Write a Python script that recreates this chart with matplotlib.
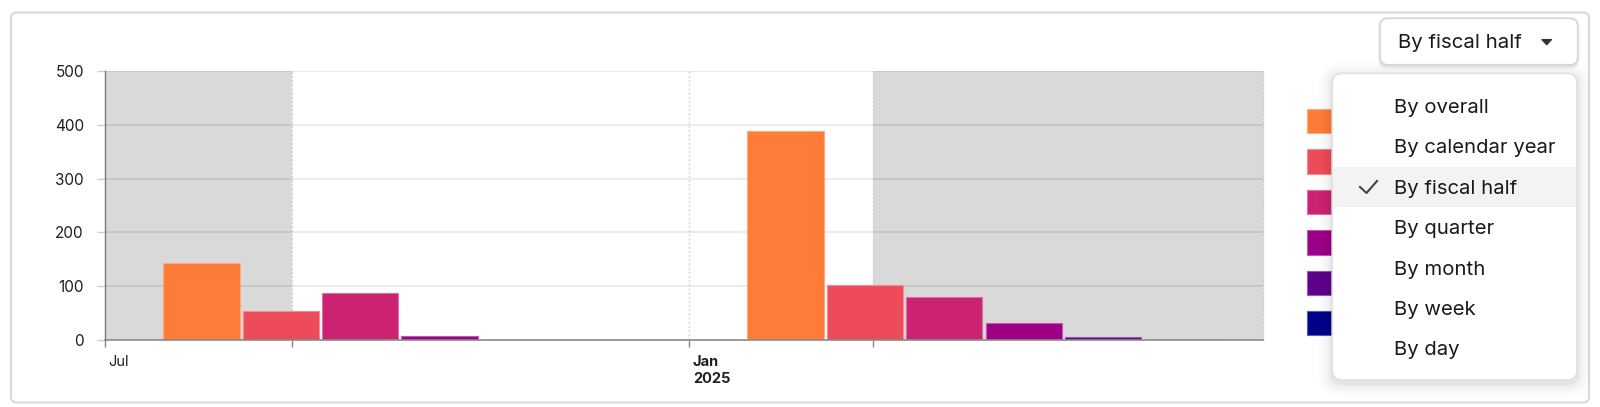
import matplotlib
matplotlib.use("Agg")
import matplotlib.pyplot as plt
import matplotlib.dates as mdates
from matplotlib.patches import FancyBboxPatch, Polygon, Rectangle
from matplotlib.lines import Line2D
from matplotlib.transforms import ScaledTranslation
import numpy as np
import datetime as dt

plt.rcParams['font.family'] = ['Inter', 'DejaVu Sans']

# ---------------- data ----------------
periods = ["H1 FY2025", "H2 FY2025"]
period_centers = ["2024-10-02", "2025-04-04"]
series_names = ["Tier 1", "Tier 2", "Tier 3", "Tier 4", "Tier 5", "Tier 6"]
series_colors = ["#fe7b38", "#ee4b5a", "#cb2272", "#9d0087", "#5e008c", "#00008b"]
values = {
    "Tier 1": [144, 389],
    "Tier 2": [53, 102],
    "Tier 3": [88, 80],
    "Tier 4": [8, 32],
    "Tier 5": [0, 5],
    "Tier 6": [0, 0],
}
x_start, x_end = "2024-07-01", "2025-07-01"
shade_spans = [("2024-07-01", "2024-08-29"), ("2025-02-28", "2025-07-01")]
tick_dates = ["2024-07-01", "2024-08-29", "2025-01-01", "2025-02-28"]
tick_labels = ["Jul", "", "Jan\n2025", ""]
y_ticks = [0, 100, 200, 300, 400, 500]
menu_items = ["By overall", "By calendar year", "By fiscal half", "By quarter",
              "By month", "By week", "By day"]
selected = "By fiscal half"

W, H = 1600, 407
fig = plt.figure(figsize=(W / 100, H / 100), dpi=100)
fig.patch.set_facecolor("white")

def d(s):
    return mdates.date2num(dt.datetime.fromisoformat(s))

def rrect(x0, y0, x1, y1, r, **kw):
    p = FancyBboxPatch((x0 / 100, (H - y1) / 100), (x1 - x0) / 100, (y1 - y0) / 100,
                       boxstyle=f"round,pad=0,rounding_size={r/100}",
                       transform=fig.dpi_scale_trans, **kw)
    fig.patches.append(p)
    return p

# card
rrect(11, 12.5, 1589, 402.5, 6, facecolor="white", edgecolor="#d4d4d4", lw=1.3, zorder=-5)

# axes
ax_l, ax_r, ax_t, ax_b = 104.7, 1263.3, 71, 340
ax = fig.add_axes([ax_l / W, (H - ax_b) / H, (ax_r - ax_l) / W, (ax_b - ax_t) / H])
ax.set_facecolor("none")
ax.set_xlim(d(x_start), d(x_end))
ax.set_ylim(0, 500)

for a, b in shade_spans:
    ax.axvspan(d(a), d(b), color="#d9d9d9", lw=0, zorder=0.2)

for y in y_ticks[1:]:
    ax.axhline(y, color="black", alpha=0.085, lw=1.3, zorder=0.5)
for t in tick_dates[1:]:
    ax.axvline(d(t), color="#d4d4d4", lw=1, ls=(0, (1.5, 1.5)), zorder=0.6)

slot = 25.0
bw = 24.0
n = len(series_names)
centers = np.array([d(c) for c in period_centers])
handles = []
for i, name in enumerate(series_names):
    xs = centers + (i - (n - 1) / 2) * slot
    col = series_colors[i]
    rgb = np.array(matplotlib.colors.to_rgb(col))
    edge = tuple(rgb + (1 - rgb) * 0.35)
    bc = ax.bar(xs, values[name], width=bw, color=col, edgecolor=edge, lw=0.8,
                zorder=2, label=name)
    handles.append(bc)

ax.set_yticks(y_ticks)
ax.set_yticklabels([str(v) for v in y_ticks])
ax.tick_params(axis="y", length=6, color="#cccccc", width=1, pad=9,
               labelsize=11, labelcolor="#1f1f1f")
ax.set_xticks([d(t) for t in tick_dates])
ax.set_xticklabels(tick_labels)
ax.tick_params(axis="x", length=5, color="#888888", width=1, pad=6,
               labelsize=10.5, labelcolor="#1f1f1f")
off = ScaledTranslation(4 / 100, 0, fig.dpi_scale_trans)
for lab in ax.get_xticklabels():
    lab.set_horizontalalignment("left")
    lab.set_transform(lab.get_transform() + off)
    lab.set_linespacing(1.25)
    if "2025" in lab.get_text():
        lab.set_fontweight("bold")

ax.spines["top"].set_visible(False)
ax.spines["left"].set_color("#7a7a7a")
ax.spines["left"].set_linewidth(1.0)
ax.spines["left"].set_linestyle((0, (2, 1)))
ax.spines["bottom"].set_color("#8a8a8a")
ax.spines["bottom"].set_linewidth(1.2)
ax.spines["right"].set_color("#cfcfcf")
ax.spines["right"].set_linestyle((0, (1.5, 1.5)))
ax.spines["right"].set_linewidth(1)

leg = ax.legend(handles=handles, labels=series_names, loc="upper left",
                bbox_to_anchor=(1306.7 / W, 1 - 109.0 / H), bbox_transform=fig.transFigure,
                frameon=False, fontsize=14.4, handlelength=1.2, handleheight=1.5,
                labelspacing=0.80, borderpad=0, borderaxespad=0, handletextpad=0.6)
for t in leg.get_texts():
    t.set_color("#222222")

# dropdown button
for k, a in [(3, 0.02), (2, 0.03), (1, 0.04)]:
    rrect(1380 - k, 18.3 - k + 1.5, 1577.7 + k, 65 + k + 1.5, 8 + k,
          facecolor="black", edgecolor="none", alpha=a, zorder=5)
rrect(1380, 18.3, 1577.7, 65, 8, facecolor="white", edgecolor="#d6d6d6", lw=1.2, zorder=6)
fig.text(1398 / W, 1 - 43.5 / H, selected, fontsize=14.7, color="#1a1a1a",
         ha="left", va="center", zorder=7)
cx, cy = 1546.7, 42
tri = Polygon([((cx - 5) / 100, (H - cy + 2.5) / 100), ((cx + 5) / 100, (H - cy + 2.5) / 100),
               (cx / 100, (H - cy - 2.8) / 100)], closed=True,
              transform=fig.dpi_scale_trans, facecolor="#333333", edgecolor="#333333",
              lw=0.8, zorder=7)
fig.patches.append(tri)

# menu
m_x0, m_y0, m_x1, m_y1 = 1332.3, 73.3, 1577, 380
for k, a in [(14, 0.012), (10, 0.015), (7, 0.02), (4, 0.025), (2, 0.03)]:
    rrect(m_x0 - k, m_y0 - k + 3, m_x1 + k, m_y1 + k + 3, 10 + k,
          facecolor="black", edgecolor="none", alpha=a, zorder=8)
rrect(m_x0, m_y0, m_x1, m_y1, 10, facecolor="white", edgecolor="#e2e2e2", lw=1.2, zorder=9)
row0, row_h = 106, 40.4
for i, item in enumerate(menu_items):
    yc = row0 + i * row_h
    if item == selected:
        r = Rectangle(((m_x0 + 0.8) / 100, (H - yc - 20) / 100),
                      (m_x1 - m_x0 - 1.6) / 100, 40 / 100, transform=fig.dpi_scale_trans,
                      facecolor="#f2f3f5", edgecolor="none", zorder=10)
        fig.patches.append(r)
        ck = Line2D([1360 / 100, 1366.5 / 100, 1377 / 100],
                    [(H - 187) / 100, (H - 193) / 100, (H - 181) / 100],
                    transform=fig.dpi_scale_trans, color="#444444", lw=1.5, zorder=11)
        fig.lines.append(ck)
    fig.text(1394 / W, 1 - (yc + 2) / H, item, fontsize=14.6, color="#1a1a1a",
             ha="left", va="center", zorder=11)

fig.savefig("out.png", dpi=100, facecolor="white")
